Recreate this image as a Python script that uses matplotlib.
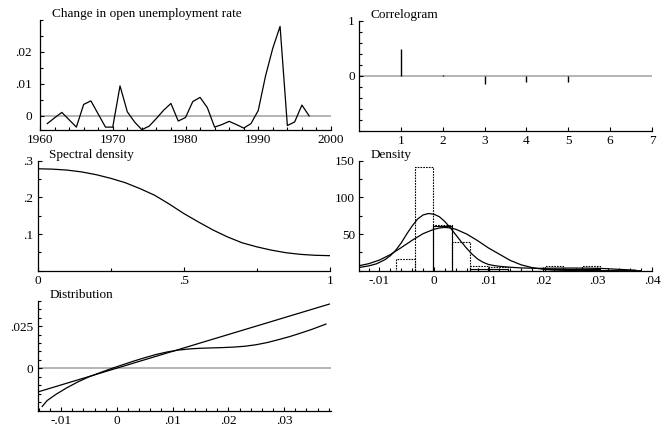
#Script recreating the PcGive style residual graphics (5 panels)

import matplotlib
matplotlib.use('Agg')
import matplotlib.pyplot as plt
from matplotlib.ticker import MultipleLocator

plt.rcParams['font.family'] = ['Liberation Serif', 'DejaVu Serif']
plt.rcParams['font.size'] = 9.5

# change in open unemployment rate, 1961-1997
years = list(range(1961, 1998))
d_unemp = [-0.0024, -0.0006, 0.0011, -0.0012, -0.0035, 0.0036, 0.0047, 0.0006,
           -0.0035, -0.0035, 0.0094, 0.0013, -0.0019, -0.0043, -0.0032, -0.0008,
           0.0018, 0.0039, -0.0016, -0.0005, 0.0045, 0.0058, 0.0026, -0.0035,
           -0.0027, -0.0017, -0.0027, -0.0038, -0.0024, 0.0017, 0.0125, 0.0212,
           0.0280, -0.0030, -0.0019, 0.0034, 0.0000]

# correlogram
lags = [1, 2, 3, 4, 5, 6]
acf = [0.48, 0.01, -0.145, -0.12, -0.12, 0.0]

# spectral density
freq = [0.0, 0.05, 0.1, 0.15, 0.2, 0.25, 0.3, 0.35, 0.4, 0.45, 0.5,
        0.55, 0.6, 0.65, 0.7, 0.75, 0.8, 0.85, 0.9, 0.95, 1.0]
spec = [0.278, 0.277, 0.2745, 0.2695, 0.262, 0.252, 0.240, 0.224, 0.206, 0.182, 0.156,
        0.133, 0.111, 0.092, 0.076, 0.065, 0.056, 0.049, 0.0445, 0.042, 0.041]

# density: histogram, kernel estimate and normal
bin_width = 0.0034
bin_left = [-0.0069, -0.0035, -0.0001, 0.0033, 0.0067, 0.0101, 0.0135,
            0.0169, 0.0203, 0.0237, 0.0271]
bin_height = [16, 141, 62, 39, 7, 5.5, 0, 0, 6, 0, 6]
solid_left = [-0.0001, 0.0067, 0.0101, 0.0203, 0.0237, 0.0271]
solid_height = [61, 3, 3, 3, 3, 3]

kern_x = [-0.0136, -0.012, -0.0105, -0.009, -0.008, -0.007, -0.006, -0.005,
          -0.004, -0.003, -0.002, -0.001, 0.0, 0.001, 0.002, 0.003, 0.004,
          0.005, 0.006, 0.007, 0.008, 0.009, 0.010, 0.011, 0.012, 0.014,
          0.016, 0.019, 0.022, 0.025, 0.028, 0.031, 0.034, 0.037]
kern_y = [4.6, 6.5, 9.5, 15, 20.5, 28, 38, 50, 61, 70.5, 76, 78, 77, 73.5, 67,
          58.5, 49, 39.5, 30.5, 22.5, 16, 11.5, 8.5, 7, 6, 4.7, 3.8, 3.2, 3.4,
          3.6, 3.5, 3, 1.8, 0.7]

norm_x = [-0.0136, -0.012, -0.010, -0.008, -0.006, -0.004, -0.002, 0.0, 0.001,
          0.002, 0.003, 0.004, 0.006, 0.008, 0.010, 0.012, 0.014, 0.016, 0.018,
          0.020, 0.022, 0.025, 0.030, 0.038]
norm_y = [7, 9.5, 14.5, 22, 31.5, 41.5, 50.5, 56.5, 58.3, 59, 58.3, 56.5, 50,
          41, 31, 22.5, 14, 8, 4.2, 2, 0.9, 0.3, 0.05, 0]

# distribution (QQ)
qq_line_x = [-0.01405, 0.0381]
qq_line_y = [-0.0138, 0.0380]
qq_x = [-0.0134, -0.0125, -0.011, -0.009, -0.007, -0.005, -0.003, -0.001, 0.001,
        0.003, 0.005, 0.007, 0.009, 0.011, 0.013, 0.015, 0.017, 0.019, 0.021,
        0.023, 0.025, 0.027, 0.029, 0.031, 0.033, 0.035, 0.0375]
qq_y = [-0.0225, -0.0190, -0.0155, -0.0115, -0.0080, -0.0050, -0.0025, -0.0001,
        0.0021, 0.0043, 0.0063, 0.0082, 0.0097, 0.0108, 0.0115, 0.0119, 0.0121,
        0.0123, 0.0126, 0.0131, 0.0140, 0.0153, 0.0170, 0.0188, 0.0209, 0.0231,
        0.0262]

W, H = 661, 433
GREY = '#a8a8a8'


def make_axes(fig, left, top, right, bottom):
    return fig.add_axes([left / W, 1 - bottom / H, (right - left) / W, (bottom - top) / H])


def style(ax, title, ypad=3.0):
    for s in ['top', 'right']:
        ax.spines[s].set_visible(False)
    for s in ['left', 'bottom']:
        ax.spines[s].set_linewidth(0.9)
    ax.tick_params(which='both', direction='in', width=0.8)
    ax.tick_params(which='major', length=3.2)
    ax.tick_params(which='minor', length=2.0)
    ax.tick_params(axis='x', which='major', pad=3)
    ax.tick_params(axis='y', which='major', pad=ypad)
    ax.annotate(title, xy=(0, 1), xycoords='axes fraction', xytext=(8.5, 1.8),
                textcoords='offset points', va='baseline', ha='left')


fig = plt.figure(figsize=(6.61, 4.33), dpi=100)

# panel 1
ax1 = make_axes(fig, 40, 20, 331, 130)
ax1.axhline(0, color=GREY, lw=1.2, zorder=1)
ax1.plot(years, d_unemp, color='black', lw=0.9)
ax1.set_xlim(1960, 2000)
ax1.set_ylim(-0.0044, 0.030)
ax1.set_xticks([1960, 1970, 1980, 1990, 2000])
ax1.set_xticklabels(['1960', '1970', '1980', '1990', '2000'])
ax1.xaxis.set_minor_locator(MultipleLocator(2))
ax1.set_yticks([0, 0.01, 0.02])
ax1.set_yticklabels(['0', '.01', '.02'])
ax1.yaxis.set_minor_locator(MultipleLocator(0.005))
style(ax1, 'Change in open unemployment rate', ypad=6)

# panel 2
ax2 = make_axes(fig, 359, 20.7, 652, 130.7)
ax2.axhline(0, color=GREY, lw=1.2, zorder=1)
ax2.vlines(lags, 0, acf, color='black', lw=1.0)
ax2.set_xlim(0, 7)
ax2.set_ylim(-1, 1)
ax2.set_xticks([1, 2, 3, 4, 5, 6, 7])
ax2.set_yticks([0, 1])
ax2.set_yticklabels(['0', '1'])
ax2.yaxis.set_minor_locator(MultipleLocator(0.2))
style(ax2, 'Correlogram')

# panel 3
ax3 = make_axes(fig, 37.5, 160.7, 330, 270.7)
ax3.plot(freq, spec, color='black', lw=0.9)
ax3.set_xlim(0, 1)
ax3.set_ylim(0, 0.3)
ax3.set_xticks([0, 0.5, 1])
ax3.set_xticklabels(['0', '.5', '1'])
ax3.xaxis.set_minor_locator(MultipleLocator(0.25))
ax3.set_yticks([0.1, 0.2, 0.3])
ax3.set_yticklabels(['.1', '.2', '.3'])
ax3.yaxis.set_minor_locator(MultipleLocator(0.05))
style(ax3, 'Spectral density')

# panel 4
ax4 = make_axes(fig, 359.3, 160.7, 652, 270.7)
ax4.bar(bin_left, bin_height, width=bin_width, align='edge', fill=False,
        edgecolor='black', lw=0.8, linestyle=(0, (1.5, 1)))
ax4.bar(solid_left, solid_height, width=bin_width, align='edge', fill=False,
        edgecolor='black', lw=0.8)
ax4.plot(kern_x, kern_y, color='black', lw=0.9)
ax4.plot(norm_x, norm_y, color='black', lw=0.9)
ax4.set_xlim(-0.0137, 0.04)
ax4.set_ylim(0, 150)
ax4.set_xticks([-0.01, 0, 0.01, 0.02, 0.03, 0.04])
ax4.set_xticklabels(['-.01', '0', '.01', '.02', '.03', '.04'])
ax4.xaxis.set_minor_locator(MultipleLocator(0.002))
ax4.set_yticks([50, 100, 150])
ax4.yaxis.set_minor_locator(MultipleLocator(25))
style(ax4, 'Density')

# panel 5
ax5 = make_axes(fig, 37.7, 300.7, 331, 410.7)
ax5.axhline(0, color=GREY, lw=1.2, zorder=1)
ax5.plot(qq_line_x, qq_line_y, color='black', lw=0.9)
ax5.plot(qq_x, qq_y, color='black', lw=0.9)
ax5.set_xlim(-0.0142, 0.0384)
ax5.set_ylim(-0.025, 0.040)
ax5.set_xticks([-0.01, 0, 0.01, 0.02, 0.03])
ax5.set_xticklabels(['-.01', '0', '.01', '.02', '.03'])
ax5.xaxis.set_minor_locator(MultipleLocator(0.002))
ax5.set_yticks([0, 0.025])
ax5.set_yticklabels(['0', '.025'])
ax5.yaxis.set_minor_locator(MultipleLocator(0.005))
style(ax5, 'Distribution')

fig.savefig('out.png', dpi=100)
